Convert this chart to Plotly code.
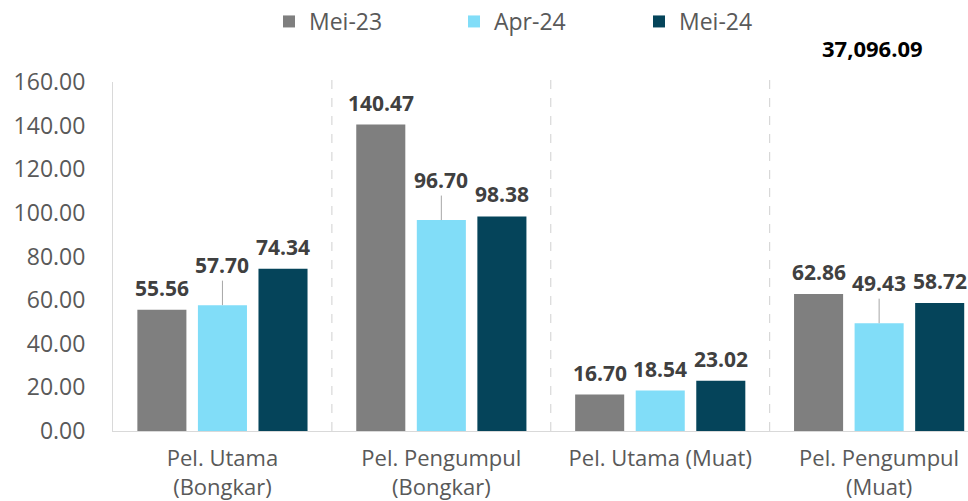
import plotly.graph_objects as go

# Data
categories = ["Pel. Utama<br>(Bongkar)", "Pel. Pengumpul<br>(Bongkar)",
              "Pel. Utama (Muat)", "Pel. Pengumpul<br>(Muat)"]
series_names = ["Mei-23", "Apr-24", "Mei-24"]
mei_23 = [55.56, 140.47, 16.70, 62.86]
apr_24 = [57.70, 96.70, 18.54, 49.43]
mei_24 = [74.34, 98.38, 23.02, 58.72]
total_label = "37,096.09"
y_ticks = [0, 20, 40, 60, 80, 100, 120, 140, 160]

colors = ["#7F7F7F", "#81DDF8", "#05445A"]
series = [mei_23, apr_24, mei_24]

BARGAP = 0.17
BARGROUPGAP = 0.19
slot = (1 - BARGAP) / 3

fig = go.Figure()
for name, vals, col in zip(series_names, series, colors):
    fig.add_trace(go.Bar(
        name=name, x=categories, y=vals,
        marker=dict(color=col, line=dict(width=0)),
        hoverinfo="x+y",
    ))

label_font = dict(family="Open Sans", size=21, color="#404040", weight="bold")

# value labels above each bar; mid-series labels sit higher with a leader line
annotations = []
for k, vals in enumerate(series):
    for i, v in enumerate(vals):
        xpos = i + (k - 1) * slot
        if k == 1 and v > 30:
            annotations.append(dict(
                x=xpos, y=v, xref="x", yref="y", text=f"{v:.2f}",
                showarrow=True, arrowhead=0, arrowwidth=1, arrowcolor="#A6A6A6",
                ax=0, ay=-40, standoff=0, font=label_font,
            ))
        else:
            annotations.append(dict(
                x=xpos, y=v, xref="x", yref="y", text=f"{v:.2f}",
                showarrow=False, yanchor="bottom", yshift=6, font=label_font,
            ))

# grand total printed at the top right
annotations.append(dict(
    x=0.888, y=1.097, xref="paper", yref="paper", text=total_label,
    showarrow=False, xanchor="center", yanchor="middle",
    font=dict(family="Open Sans", size=22, color="#000000", weight="bold"),
))

shapes = []
for b in [0.5, 1.5, 2.5]:
    shapes.append(dict(
        type="line", xref="x", yref="paper", x0=b, x1=b, y0=0, y1=1.01,
        line=dict(color="#D0D0D0", width=1, dash="dash"), layer="below",
    ))

fig.update_layout(
    width=968, height=501,
    margin=dict(l=113, r=0, t=82, b=70, autoexpand=False),
    paper_bgcolor="white", plot_bgcolor="white",
    barmode="group", bargap=BARGAP, bargroupgap=BARGROUPGAP,
    font=dict(family="Open Sans", size=23, color="#595959"),
    legend=dict(
        orientation="h", x=0.507, xanchor="center", y=1.0, yanchor="top",
        yref="container", entrywidth=140, font=dict(size=23, color="#595959"),
        itemclick=False,
    ),
    annotations=annotations,
    shapes=shapes,
    showlegend=True,
)
fig.update_xaxes(
    range=[-0.5, 3.406], showgrid=False, showline=True, linecolor="#D9D9D9",
    linewidth=1, ticks="", tickfont=dict(size=22, color="#595959"),
    ticklabelstandoff=8, fixedrange=True,
)
fig.update_yaxes(
    range=[0, 160], tickvals=y_ticks, tickformat=".2f", showgrid=False,
    showline=True, linecolor="#D9D9D9", linewidth=1, ticks="",
    tickfont=dict(size=23, color="#595959"), ticklabelstandoff=22,
    zeroline=False, fixedrange=True,
)

fig.write_html("out.html")
